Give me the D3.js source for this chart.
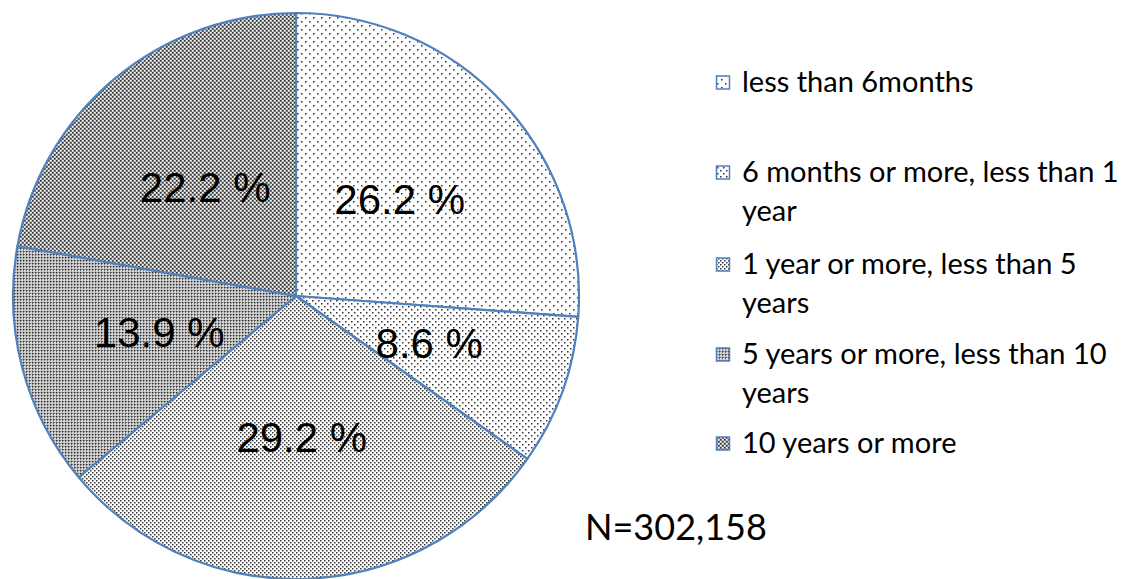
<!DOCTYPE html>
<html lang="en">
<head>
    <meta charset="UTF-8">
    <title>Duration pie</title>
    <script src="https://cdnjs.cloudflare.com/ajax/libs/d3/7.8.5/d3.min.js"></script>
    <style>
        body { margin: 0; background: #fff; }
        .lbl { font: 42px "Liberation Sans", Arial, sans-serif; fill: #000; }
        .leg text { font: 29px Lato, "Open Sans", sans-serif; fill: #000; }
    </style>
</head>
<body>
    <svg width="1141" height="579"></svg>
    <script>
        // slice categories, values (%) and legend lines
        const categories = ["less than 6months", "6 months or more, less than 1 year",
            "1 year or more, less than 5 years", "5 years or more, less than 10 years", "10 years or more"];
        const values = [26.2, 8.6, 29.2, 13.9, 22.2];
        const legendLines = [["less than 6months"], ["6 months or more, less than 1", "year"],
            ["1 year or more, less than 5", "years"], ["5 years or more, less than 10", "years"],
            ["10 years or more"]];
        const note = "N=302,158";

        const svg = d3.select("svg");
        const defs = svg.append("defs");

        // hatch patterns, light to dark
        function dots(id, size, pts, bg) {
            const p = defs.append("pattern").attr("id", id)
                .attr("patternUnits", "userSpaceOnUse")
                .attr("width", size).attr("height", size);
            p.append("rect").attr("width", size).attr("height", size).attr("fill", bg || "#fff");
            pts.forEach(([x, y, c]) => p.append("rect").attr("x", x).attr("y", y)
                .attr("width", 1.5).attr("height", 1.5).attr("fill", c || "#333"));
        }
        dots("p0", 8, [[1, 1], [5, 5]]);
        dots("p1", 6, [[1, 1], [4, 4]]);
        dots("p2", 4, [[0, 0], [2, 2]]);
        dots("p3", 3, [[1, 1, "#fff"], [0, 0, "#333"]], "#b8b8b8");
        dots("p4", 4, [[0, 0, "#333"], [2, 2, "#333"], [0, 2, "#fff"], [2, 0, "#fff"]], "#9c9c9c");

        const cx = 296, cy = 296, R = 283;
        const g = svg.append("g").attr("transform", `translate(${cx},${cy})`);

        const pie = d3.pie().sort(null).value(d => d);
        const arc = d3.arc().innerRadius(0).outerRadius(R);
        const arcs = pie(values);

        g.selectAll("path").data(arcs).enter().append("path")
            .attr("d", arc)
            .attr("fill", (d, i) => `url(#p${i})`)
            .attr("stroke", "#4f81bd")
            .attr("stroke-width", 2.2)
            .attr("stroke-linejoin", "round");

        g.selectAll("text.lbl").data(arcs).enter().append("text")
            .attr("class", "lbl")
            .attr("transform", d => `translate(${arc.centroid(d)})`)
            .attr("text-anchor", "middle")
            .attr("dy", "0.35em")
            .text(d => d.data.toFixed(1) + " %");

        // legend
        const legY = [82, 172, 264, 354, 443];
        const leg = svg.append("g").attr("class", "leg");
        legendLines.forEach((lines, i) => {
            const item = leg.append("g").attr("transform", `translate(716,${legY[i]})`);
            item.append("rect").attr("x", 0.5).attr("y", -6).attr("width", 13).attr("height", 13)
                .attr("fill", `url(#p${i})`).attr("stroke", "#4f81bd").attr("stroke-width", 1.5);
            lines.forEach((t, j) => item.append("text")
                .attr("x", 26).attr("y", j * 39).attr("dy", "0.35em").text(t));
        });

        svg.append("text")
            .attr("x", 585).attr("y", 527).attr("dy", "0.35em")
            .style("font", "36px Lato, 'Open Sans', sans-serif")
            .text(note);
    </script>
</body>
</html>
